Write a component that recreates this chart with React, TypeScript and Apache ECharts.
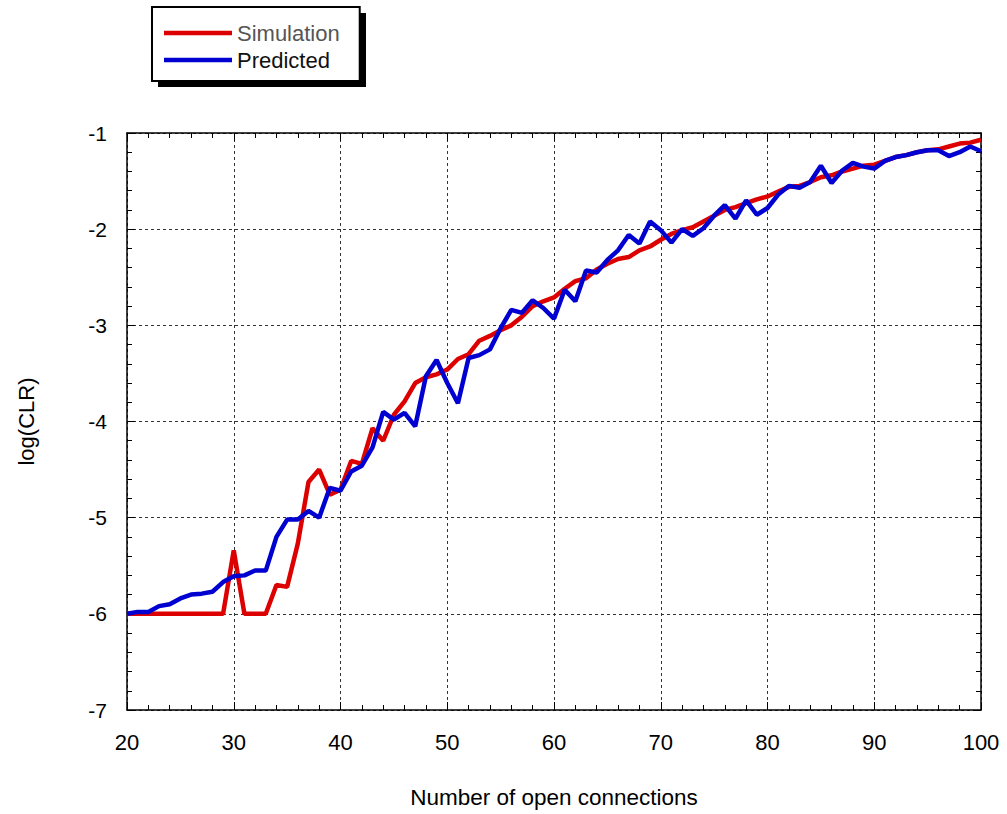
import React, { useEffect, useRef } from "react";
import * as echarts from "echarts";

const connections = [
  20, 21, 22, 23, 24, 25, 26, 27, 28, 29,
  30, 31, 32, 33, 34, 35, 36, 37, 38, 39,
  40, 41, 42, 43, 44, 45, 46, 47, 48, 49,
  50, 51, 52, 53, 54, 55, 56, 57, 58, 59,
  60, 61, 62, 63, 64, 65, 66, 67, 68, 69,
  70, 71, 72, 73, 74, 75, 76, 77, 78, 79,
  80, 81, 82, 83, 84, 85, 86, 87, 88, 89,
  90, 91, 92, 93, 94, 95, 96, 97, 98, 99,
  100,
];

const simulation = [
  -6.0, -6.0, -6.0, -6.0, -6.0, -6.0, -6.0, -6.0, -6.0, -6.0,
  -5.34, -6.0, -6.0, -6.0, -5.7, -5.72, -5.27, -4.63, -4.5, -4.76,
  -4.71, -4.41, -4.44, -4.07, -4.2, -3.93, -3.79, -3.6, -3.54, -3.51,
  -3.46, -3.35, -3.3, -3.16, -3.11, -3.05, -3.0, -2.91, -2.8, -2.75,
  -2.71, -2.62, -2.54, -2.51, -2.42, -2.36, -2.31, -2.29, -2.22, -2.18,
  -2.11, -2.05, -2.01, -1.98, -1.92, -1.86, -1.8, -1.77, -1.73, -1.69,
  -1.66, -1.61, -1.56, -1.55, -1.51, -1.46, -1.44, -1.4, -1.37, -1.34,
  -1.33, -1.29, -1.25, -1.23, -1.2, -1.18, -1.17, -1.14, -1.11, -1.1,
  -1.07,
];

const predicted = [
  -6.0, -5.98, -5.98, -5.92, -5.9, -5.84, -5.8, -5.79, -5.77, -5.67,
  -5.61, -5.6, -5.55, -5.55, -5.2, -5.02, -5.02, -4.93, -5.0, -4.69,
  -4.72, -4.52, -4.46, -4.27, -3.9, -3.98, -3.91, -4.05, -3.53, -3.36,
  -3.6, -3.81, -3.34, -3.31, -3.25, -3.03, -2.84, -2.87, -2.74, -2.82,
  -2.93, -2.63, -2.75, -2.43, -2.45, -2.32, -2.22, -2.06, -2.15, -1.92,
  -2.01, -2.14, -2.0, -2.07, -1.99, -1.86, -1.75, -1.89, -1.7, -1.85,
  -1.78, -1.64, -1.55, -1.57, -1.51, -1.34, -1.52, -1.39, -1.31, -1.35,
  -1.37, -1.29, -1.25, -1.23, -1.2, -1.18, -1.18, -1.24, -1.2, -1.14,
  -1.19,
];

const seriesNames = ["Simulation", "Predicted"];
const seriesColors = ["#dc0000", "#0000d0"];
const xTitle = "Number of open connections";
const yTitle = "log(CLR)";

const FONT = "'Liberation Sans', Arial, Helvetica, sans-serif";

export default function App() {
  const ref = useRef<HTMLDivElement>(null);

  useEffect(() => {
    if (!ref.current) return;
    const chart = echarts.init(ref.current, undefined, { renderer: "svg" });

    const axisLine = { show: true, lineStyle: { color: "#000", width: 1.5 } };
    const axisTick = { show: true, inside: true, length: 8, lineStyle: { color: "#000", width: 1 } };
    const minorTick = { show: true, splitNumber: 5, length: 5, lineStyle: { color: "#000", width: 1 } };
    const splitLine = { show: true, lineStyle: { color: "#333", width: 1, type: [3, 3] } };

    const toPairs = (vals: number[]) => connections.map((x, i) => [x, vals[i]]);

    chart.setOption({
      animation: false,
      backgroundColor: "#fff",
      grid: { left: 127, right: 26, top: 133, bottom: 104, containLabel: false },
      legend: {
        left: 152,
        top: 7,
        orient: "vertical",
        icon: "rect",
        itemWidth: 68,
        itemHeight: 4.5,
        itemGap: 5,
        padding: [15, 20, 10, 12],
        backgroundColor: "#fff",
        borderColor: "#000",
        borderWidth: 2,
        borderRadius: 0,
        z: 10,
        textStyle: { fontSize: 22, fontFamily: FONT, color: "#111" },
        data: [
          { name: seriesNames[0], textStyle: { color: "#555" } },
          { name: seriesNames[1], textStyle: { color: "#111" } },
        ],
      },
      graphic: [
        {
          type: "rect",
          z: 1,
          shape: { x: 158, y: 13, width: 208, height: 74 },
          style: { fill: "#000" },
        },
      ],
      xAxis: [
        {
          type: "value",
          min: 20,
          max: 100,
          interval: 10,
          position: "bottom",
          axisLine,
          axisTick,
          minorTick,
          splitLine,
          axisLabel: { fontSize: 22, color: "#000", margin: 21, fontFamily: FONT },
          name: xTitle,
          nameLocation: "middle",
          nameGap: 76,
          nameTextStyle: { fontSize: 22.5, color: "#000", fontFamily: FONT },
        },
        {
          type: "value",
          min: 20,
          max: 100,
          interval: 10,
          position: "top",
          axisLine,
          axisTick,
          minorTick,
          splitLine: { show: false },
          axisLabel: { show: false },
        },
      ],
      yAxis: [
        {
          type: "value",
          min: -7,
          max: -1,
          interval: 1,
          position: "left",
          axisLine,
          axisTick,
          minorTick,
          splitLine,
          axisLabel: { fontSize: 21, color: "#000", margin: 20, fontFamily: FONT },
          name: yTitle,
          nameLocation: "middle",
          nameRotate: 90,
          nameGap: 90,
          nameTextStyle: { fontSize: 22, color: "#000", fontFamily: FONT },
        },
        {
          type: "value",
          min: -7,
          max: -1,
          interval: 1,
          position: "right",
          axisLine,
          axisTick,
          minorTick,
          splitLine: { show: false },
          axisLabel: { show: false },
        },
      ],
      series: [
        {
          name: seriesNames[0],
          type: "line",
          data: toPairs(simulation),
          showSymbol: false,
          symbol: "none",
          lineStyle: { color: seriesColors[0], width: 4.5 },
          itemStyle: { color: seriesColors[0] },
          z: 3,
        },
        {
          name: seriesNames[1],
          type: "line",
          data: toPairs(predicted),
          showSymbol: false,
          symbol: "none",
          lineStyle: { color: seriesColors[1], width: 4.5 },
          itemStyle: { color: seriesColors[1] },
          z: 4,
        },
      ],
    });

    return () => chart.dispose();
  }, []);

  return (
    <div
      ref={ref}
      style={{ position: "absolute", left: 0, top: 0, width: 1007, height: 814 }}
    />
  );
}
